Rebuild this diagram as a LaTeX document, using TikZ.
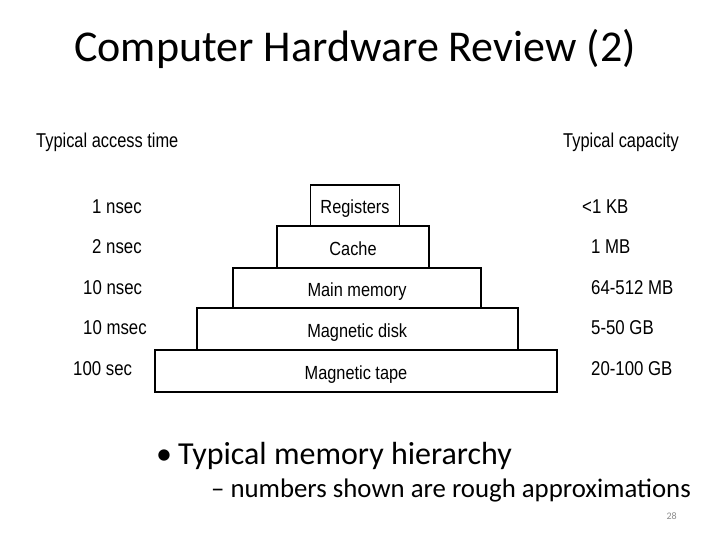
\documentclass[tikz,border=0pt]{standalone}
\usepackage{graphicx}
\usepackage{fontspec}
\setmainfont{Carlito}
\newfontfamily\arialf{Liberation Sans}
\newcommand\narrowtxt[2]{\scalebox{#1}[1]{#2}}
\begin{document}
\begin{tikzpicture}[x=1pt,y=-1pt,
  level/.style={draw=black,line width=1.8pt,inner sep=0pt,text height=16pt,text depth=0pt,font=\arialf\fontsize{19}{21}\selectfont},
  side/.style={anchor=base west,inner sep=0pt,font=\arialf\fontsize{20}{22}\selectfont}]
\useasboundingbox[fill=white] (0,0) rectangle (720,540);
\node[anchor=base,inner sep=0pt,font=\fontsize{44}{50}\selectfont] (title) at (355,62) {Computer Hardware Review (2)};
% pyramid
\node[level,minimum width=89pt,minimum height=41pt] (reg) at (355,205.5) {\narrowtxt{0.86}{Registers}};
\node[level,minimum width=152.6pt,minimum height=42pt] (cache) at (353,247) {\narrowtxt{0.86}{Cache}};
\node[level,minimum width=248.6pt,minimum height=40pt] (main) at (357,288) {\narrowtxt{0.86}{Main memory}};
\node[level,minimum width=321pt,minimum height=42pt] (disk) at (357.2,329) {\narrowtxt{0.86}{Magnetic disk}};
\node[level,minimum width=401.4pt,minimum height=42pt] (tape) at (356,371) {\narrowtxt{0.86}{Magnetic tape}};
% headings
\node[side] (hacc) at (36,147.5) {\narrowtxt{0.82}{Typical access time}};
\node[side] (hcap) at (563,147.5) {\narrowtxt{0.82}{Typical capacity}};
% access times
\node[side] (t1) at (92,214) {\narrowtxt{0.84}{1 nsec}};
\node[side] (t2) at (92,254) {\narrowtxt{0.84}{2 nsec}};
\node[side] (t3) at (83,294) {\narrowtxt{0.84}{10 nsec}};
\node[side] (t4) at (83,334) {\narrowtxt{0.84}{10 msec}};
\node[side] (t5) at (73,375) {\narrowtxt{0.84}{100 sec}};
% capacities
\node[side] (c1) at (582,214) {\narrowtxt{0.84}{<1 KB}};
\node[side] (c2) at (591,254) {\narrowtxt{0.84}{1 MB}};
\node[side] (c3) at (591,294) {\narrowtxt{0.84}{64-512 MB}};
\node[side] (c4) at (591,334) {\narrowtxt{0.84}{5-50 GB}};
\node[side] (c5) at (591,375) {\narrowtxt{0.84}{20-100 GB}};
% bullets
\node[anchor=base west,inner sep=0pt,font=\fontsize{32}{36}\selectfont] (b1) at (156,464) {•\hspace{6pt}Typical memory hierarchy};
\node[anchor=base west,inner sep=0pt,font=\fontsize{26.8}{30}\selectfont] (b2) at (211,497) {–\hspace{6pt}numbers shown are rough approximations};
\node[anchor=base east,inner sep=0pt,text=black!45,font=\fontsize{10}{12}\selectfont] (pg) at (677,519) {28};
\end{tikzpicture}
\end{document}
